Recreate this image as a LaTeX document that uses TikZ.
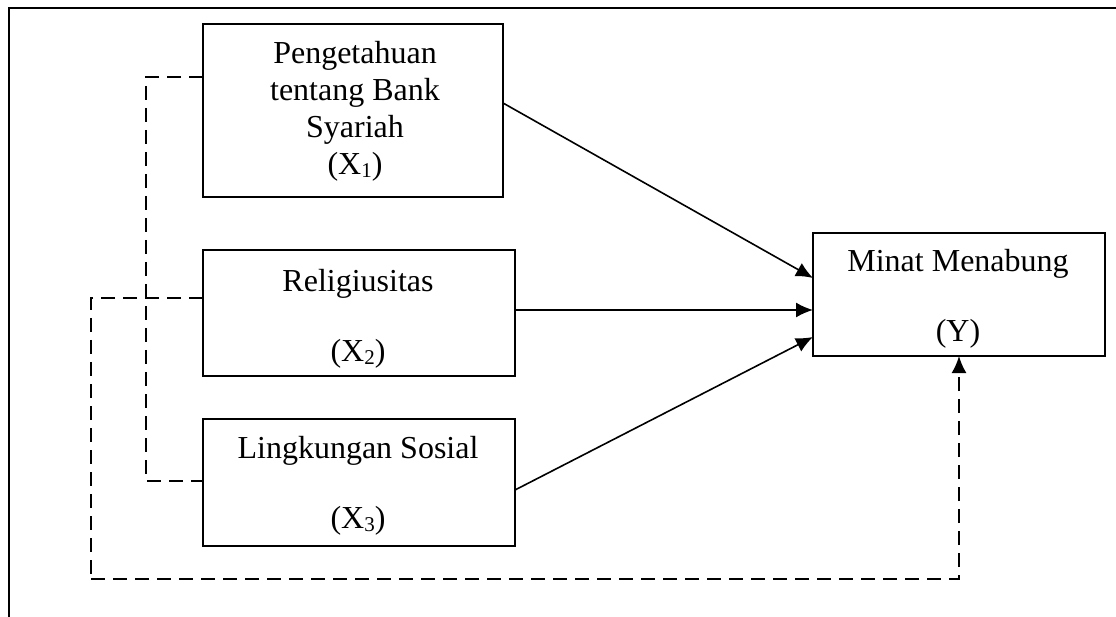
\documentclass[tikz,border=0pt]{standalone}
\usepackage{fontspec}
\setmainfont{Liberation Serif}
\usetikzlibrary{arrows.meta,calc}
\newcommand{\lowsub}[1]{\raisebox{-3pt}{\fontsize{21}{21}\selectfont #1}}
\begin{document}
\begin{tikzpicture}[x=1pt,y=-1pt,
  box/.style={draw, line width=2pt, minimum width=#1, inner sep=0pt, outer sep=0pt},
  lbl/.style={anchor=base, align=center, inner sep=0pt,
    font=\fontsize{32}{37}\selectfont},
  conn/.style={line width=1.6pt, -{Latex[length=17pt,width=15pt]}},
  dconn/.style={line width=2pt, dash pattern=on 14pt off 8pt}]
\useasboundingbox (0,0) rectangle (1116,617);
% frame
\coordinate (fa) at (1116,8);
\coordinate (fb) at (9,8);
\coordinate (fc) at (9,617);
\draw[line width=2pt] (fa) -- (fb) -- (fc);
% boxes
\node[box=300pt, minimum height=173pt] (X1) at (353,110.5) {};
\node[box=312pt, minimum height=126pt] (X2) at (359,313) {};
\node[box=312pt, minimum height=127pt] (X3) at (359,482.5) {};
\node[box=292pt, minimum height=123pt] (Y) at (959,294.5) {};
% texts
\node[lbl] (t1) at (355,175) {Pengetahuan\\tentang Bank\\Syariah\\(X\lowsub{1})};
\node[lbl] (t2a) at (358,292) {Religiusitas};
\node[lbl] (t2b) at (358,362) {(X\lowsub{2})};
\node[lbl] (t3a) at (358,458) {Lingkungan Sosial};
\node[lbl] (t3b) at (358,528) {(X\lowsub{3})};
\node[lbl] (tya) at (958,272) {Minat Menabung};
\node[lbl] (tyb) at (958,342) {(Y)};
% arrows
\draw[conn] ($(X1.north east)+(0,79)$) -- ($(Y.north west)+(0,45)$);
\draw[conn] ($(X2.north east)+(0,60)$) -- ($(Y.north west)+(0,77)$);
\draw[conn] ($(X3.north east)+(0,71)$) -- ($(Y.north west)+(0,104)$);
% dashed loops
\coordinate (la) at (146,77);
\coordinate (lb) at (146,481);
\draw[dconn] ($(X1.north west)+(0,53)$) -- (la) -- (lb) -- ($(X3.north west)+(0,62)$);
\coordinate (ma) at (91,298);
\coordinate (mb) at (91,579);
\draw[dconn] ($(X2.north west)+(0,48)$) -- (ma) -- (mb);
\draw[dconn, -{Latex[length=17pt,width=15pt]}] (mb) -| (Y.south);
\end{tikzpicture}
\end{document}
